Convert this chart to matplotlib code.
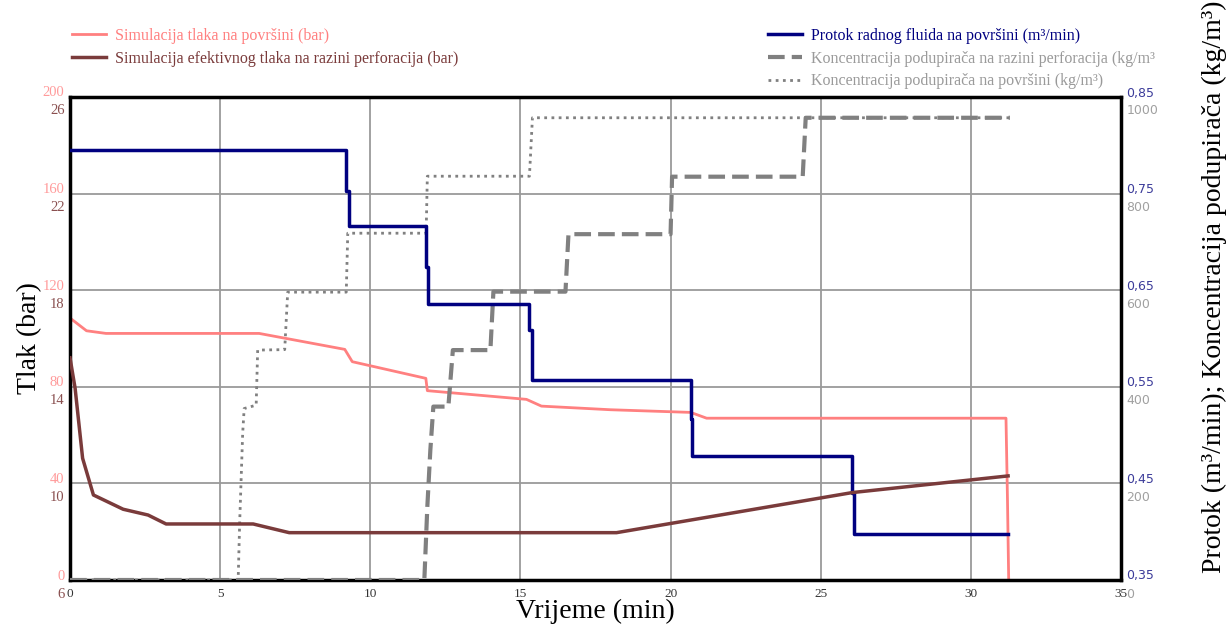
import matplotlib
matplotlib.use("Agg")
import matplotlib.pyplot as plt
from matplotlib.transforms import ScaledTranslation

# ---------------- data ----------------
x_ticks = [0, 5, 10, 15, 20, 25, 30, 35]

pressure_ticks = [0, 40, 80, 120, 160, 200]
eff_ticks = [6, 10, 14, 18, 22, 26]
flow_ticks = [0.35, 0.45, 0.55, 0.65, 0.75, 0.85]
flow_tick_labels = ["0,35", "0,45", "0,55", "0,65", "0,75", "0,85"]
conc_ticks = [0, 200, 400, 600, 800, 1000]

# surface pressure simulation (bar)
t_surface = [0.05, 0.55, 1.2, 6.3, 9.15, 9.4, 11.85, 11.9, 15.2, 15.7, 18.0, 20.67, 21.2, 31.17, 31.22, 31.26]
p_surface = [108, 103.2, 102.1, 102.1, 95.5, 90.4, 83.5, 78.4, 74.8, 72.0, 70.5, 69.4, 67.0, 67.0, 33.0, 0.0]

# effective pressure at perforation level (bar)
t_eff = [0.0, 0.17, 0.42, 0.78, 1.77, 2.6, 3.2, 6.1, 7.3, 18.2, 26.05, 31.24]
p_eff = [15.2, 13.94, 11.04, 9.52, 8.93, 8.69, 8.32, 8.32, 7.96, 7.96, 9.62, 10.31]

# surface fluid flow rate (m3/min)
t_flow = [0, 9.2, 9.2, 9.3, 9.3, 11.86, 11.86, 11.92, 11.92, 15.3, 15.3, 15.38, 15.38,
          20.67, 20.67, 20.73, 20.73, 26.05, 26.05, 26.1, 26.1, 31.24]
q_flow = [0.795, 0.795, 0.753, 0.753, 0.716, 0.716, 0.674, 0.674, 0.636, 0.636, 0.609, 0.609, 0.557,
          0.557, 0.517, 0.517, 0.478, 0.478, 0.440, 0.440, 0.398, 0.398]

# proppant concentration at perforation level (kg/m3)
t_conc_perf = [0, 11.8, 11.9, 12.0, 12.1, 12.6, 12.75, 14.0, 14.1, 16.5, 16.6, 20.0, 20.05, 24.4, 24.5, 31.3]
c_conc_perf = [0, 0, 152, 269, 359, 359, 476, 476, 597, 597, 716, 716, 835, 835, 957, 957]

# proppant concentration at surface (kg/m3)
t_conc_surf = [0, 5.6, 5.65, 5.75, 5.8, 6.2, 6.25, 7.15, 7.25, 9.2, 9.25, 11.86, 11.9, 15.3, 15.4, 31.3]
c_conc_surf = [0, 0, 118, 303, 355, 362, 476, 477, 596, 596, 718, 718, 836, 836, 957, 957]

labels = [
    "Simulacija tlaka na površini (bar)",
    "Simulacija efektivnog tlaka na razini perforacija (bar)",
    "Protok radnog fluida na površini (m³/min)",
    "Koncentracija podupirača na razini perforacija (kg/m³",
    "Koncentracija podupirača na površini (kg/m³)",
]

# ---------------- styling ----------------
C_PINK = "#FF8080"
C_BROWN = "#7A3B3B"
C_BLUE = "#000080"
C_GREY = "#808080"
SERIF = ["Liberation Serif", "DejaVu Serif"]

W, H = 1229, 628
fig = plt.figure(figsize=(W / 100, H / 100), dpi=100)
L, R, T, B = 70, 1121, 97, 580
ax = fig.add_axes([L / W, 1 - B / H, (R - L) / W, (B - T) / H])

ax_c = ax.twinx()
ax_q = ax.twinx()
ax_b = ax.twinx()

# lines
l_c2, = ax_c.plot(t_conc_surf, c_conc_surf, color=C_GREY, lw=2.0, linestyle=(0, (1, 1.6)))
l_c1, = ax_c.plot(t_conc_perf, c_conc_perf, color=C_GREY, lw=3.0, linestyle=(0, (4, 1.7)))
l_q, = ax_q.plot(t_flow, q_flow, color=C_BLUE, lw=2.5)
l_p, = ax.plot(t_surface, p_surface, color=C_PINK, lw=2.0)
l_b, = ax_b.plot(t_eff, p_eff, color=C_BROWN, lw=2.5)

# limits
ax.set_xlim(0, 35)
ax.set_ylim(0, 200)
ax_b.set_ylim(6, 26)
ax_q.set_ylim(0.35, 0.85)
ax_c.set_ylim(0, 1000)

# grid
ax.set_xticks(x_ticks)
ax.grid(True, color="#9A9A9A", lw=1.3)
ax.set_axisbelow(True)

for a in (ax_b, ax_q, ax_c):
    for s in a.spines.values():
        s.set_visible(False)
for s in ax.spines.values():
    s.set_linewidth(2.5)
    s.set_color("black")

ax.tick_params(axis="x", length=0, pad=6, labelsize=9.5, labelcolor="#333333")
for lab in ax.get_xticklabels():
    lab.set_family(SERIF)

def style_axis(a, ticks, ticklabels, color, side, dy_px, size, family):
    a.set_yticks(ticks)
    a.set_yticklabels(ticklabels)
    a.yaxis.set_ticks_position(side)
    a.tick_params(axis="y", length=0, pad=4, labelsize=size, labelcolor=color)
    off = ScaledTranslation(0, dy_px / 100, fig.dpi_scale_trans)
    for lab in a.get_yticklabels():
        lab.set_family(family)
        lab.set_va("center")
        lab.set_transform(lab.get_transform() + off)

style_axis(ax, pressure_ticks, [str(v) for v in pressure_ticks], "#FF9A9A", "left", 4, 10.5, SERIF)
style_axis(ax_b, eff_ticks, [str(v) for v in eff_ticks], "#8A5050", "left", -14, 10.5, SERIF)
style_axis(ax_q, flow_ticks, flow_tick_labels, "#3C3C9A", "right", 4, 9, ["DejaVu Sans"])
style_axis(ax_c, conc_ticks, [str(v) for v in conc_ticks], "#A0A0A0", "right", -14, 9, ["DejaVu Sans"])

# axis titles
ax.set_xlabel("Vrijeme (min)", fontsize=20, family=SERIF, labelpad=-1)
fig.text(30 / W, 1 - 338 / H, "Tlak (bar)", rotation=90, fontsize=20, family=SERIF,
         ha="center", va="center")
fig.text(1214 / W, 1 - 287 / H, "Protok (m³/min); Koncentracija podupirača (kg/m³)",
         rotation=90, fontsize=20, family=SERIF, ha="center", va="center")

# legends
leg1 = fig.legend([l_p, l_b], labels[:2], loc="upper left",
                  bbox_to_anchor=(72 / W, 1 - 28 / H), frameon=False,
                  borderaxespad=0, borderpad=0, handlelength=2.1, handletextpad=0.6,
                  labelspacing=0.42, prop={"family": SERIF, "size": 11.5})
for txt, c in zip(leg1.get_texts(), [C_PINK, C_BROWN]):
    txt.set_color(c)

leg2 = fig.legend([l_q, l_c1, l_c2], labels[2:], loc="upper left",
                  bbox_to_anchor=(768 / W, 1 - 28 / H), frameon=False,
                  borderaxespad=0, borderpad=0, handlelength=2.1, handletextpad=0.6,
                  labelspacing=0.42, prop={"family": SERIF, "size": 11.5})
for txt, c in zip(leg2.get_texts(), [C_BLUE, "#9A9A9A", "#9A9A9A"]):
    txt.set_color(c)

fig.savefig("out.png", dpi=100)
